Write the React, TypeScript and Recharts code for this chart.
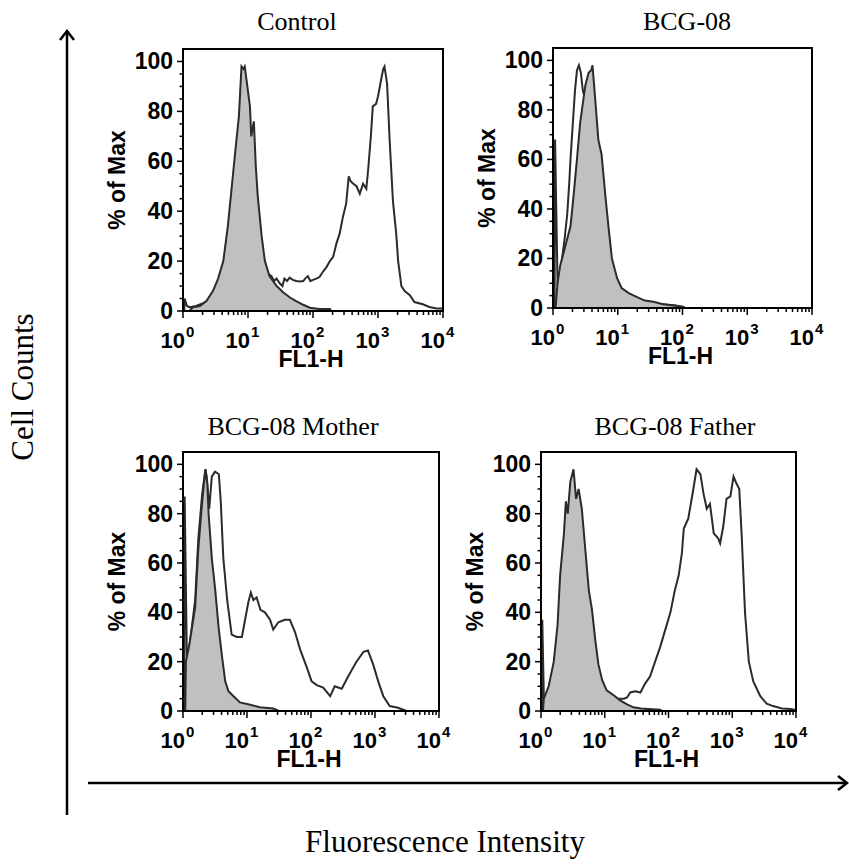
import React from "react";
import { Area, ComposedChart, Label, ReferenceArea, XAxis, YAxis } from "recharts";

// x positions are in decades of FL1-H (0 = 10^0 ... 4 = 10^4), y is % of max
const decadeTicks = [0, 1, 2, 3, 4];
const minorMultipliers = [2, 3, 4, 5, 6, 7, 8, 9];
const percentTicks = [0, 5, 10, 15, 20, 25, 30, 35, 40, 45, 50, 55, 60, 65, 70, 75, 80, 85, 90, 95, 100];
const percentLabels = [0, 20, 40, 60, 80, 100];

// Control
const controlOpenX = [0.02, 0.025, 0.06, 0.1, 0.2, 0.3, 0.5, 0.7, 0.9, 1.1, 1.25, 1.33, 1.36, 1.4, 1.44, 1.49, 1.53, 1.56, 1.6, 1.64, 1.69, 1.74, 1.8, 1.85, 1.88, 1.92, 1.96, 2.0, 2.05, 2.1, 2.16, 2.21, 2.26, 2.31, 2.36, 2.41, 2.46, 2.51, 2.55, 2.58, 2.62, 2.67, 2.72, 2.77, 2.82, 2.85, 2.89, 2.92, 2.97, 3.0, 3.05, 3.08, 3.1, 3.14, 3.18, 3.23, 3.28, 3.31, 3.36, 3.41, 3.49, 3.56, 3.69, 3.79, 3.9, 4.0];
const controlOpenY = [0, 5, 2, 1.5, 2, 3, 6, 9, 12, 14, 15, 14.5, 14, 12, 13, 11, 10, 13, 12, 13.4, 12.5, 12, 11.8, 12, 13, 14, 12, 12.5, 13, 13.6, 16, 17.7, 20, 21.7, 27, 31, 37.7, 43, 54, 52, 51, 50, 47, 51, 49, 57, 70, 82, 83, 86, 93, 97, 98, 91, 68, 44, 31, 20, 10, 8, 6.3, 3.6, 2.7, 1.6, 1, 1];
const controlGrayX = [0.1, 0.15, 0.26, 0.36, 0.46, 0.54, 0.62, 0.69, 0.77, 0.82, 0.86, 0.9, 0.93, 0.95, 0.98, 1.03, 1.05, 1.09, 1.12, 1.15, 1.21, 1.26, 1.33, 1.44, 1.54, 1.64, 1.74, 1.85, 1.95, 2.1, 2.26, 2.28];
const controlGrayY = [0, 1.5, 2, 4, 8, 13, 20, 34, 55, 68, 78, 98, 97, 98, 92, 82, 70, 76, 58, 46, 30, 20, 14, 10, 7.5, 5.5, 4, 2.5, 1.3, 0.8, 0.8, 0];

// BCG-08
const patientOpenX = [0.025, 0.032, 0.07, 0.1, 0.14, 0.18, 0.22, 0.25, 0.27, 0.29, 0.32, 0.34, 0.37, 0.4, 0.43, 0.46, 0.5, 0.6, 0.7, 0.8, 0.9, 1.0, 1.2, 1.5, 1.9, 2.05];
const patientOpenY = [0, 68, 10, 11, 20, 28, 38, 50, 60, 68, 80, 88, 96, 98, 95, 88, 84, 60, 40, 25, 12, 7, 4, 2, 1, 0];
const patientGrayX = [0.04, 0.07, 0.11, 0.16, 0.22, 0.27, 0.32, 0.37, 0.42, 0.5, 0.55, 0.59, 0.61, 0.65, 0.7, 0.75, 0.81, 0.86, 0.91, 0.99, 1.06, 1.17, 1.29, 1.42, 1.55, 1.7, 1.86, 2.01, 2.03];
const patientGrayY = [0, 10, 17, 22, 28, 33, 46, 60, 75, 90, 95, 96, 98, 85, 68, 62, 45, 32, 20, 12, 8, 6, 4.5, 3, 2.5, 1.5, 1, 0.5, 0];

// BCG-08 Mother
const motherOpenX = [0.02, 0.026, 0.06, 0.11, 0.19, 0.24, 0.3, 0.35, 0.37, 0.41, 0.45, 0.5, 0.56, 0.59, 0.63, 0.69, 0.76, 0.84, 0.92, 0.97, 1.02, 1.06, 1.1, 1.15, 1.21, 1.28, 1.36, 1.41, 1.49, 1.59, 1.67, 1.75, 1.83, 1.93, 2.01, 2.09, 2.19, 2.3, 2.37, 2.48, 2.58, 2.71, 2.82, 2.89, 2.97, 3.05, 3.13, 3.23, 3.36, 3.44, 3.49];
const motherOpenY = [0, 87, 22, 28, 45, 70, 88, 98, 95, 82, 95, 97, 96, 85, 62, 45, 31, 30, 30, 37, 44, 48, 45, 46, 41, 40, 37, 33, 36, 37, 37, 32, 25, 18, 12, 10.5, 9.5, 6, 10, 9, 14, 20, 24, 24.5, 19, 12, 6, 2, 1.3, 0.5, 0];
const motherGrayX = [0.035, 0.045, 0.1, 0.19, 0.24, 0.3, 0.35, 0.38, 0.4, 0.45, 0.5, 0.56, 0.61, 0.66, 0.71, 0.79, 0.89, 1.05, 1.2, 1.41, 1.5];
const motherGrayY = [0, 20, 27, 42, 66, 85, 98, 92, 80, 62, 50, 33, 22, 12, 8, 6, 3.5, 2.5, 1.5, 1, 0];

// BCG-08 Father
const fatherOpenX = [0.015, 0.02, 0.045, 0.3, 0.6, 0.9, 1.1, 1.19, 1.3, 1.35, 1.4, 1.48, 1.56, 1.63, 1.71, 1.79, 1.87, 1.95, 2.03, 2.1, 2.16, 2.21, 2.24, 2.31, 2.39, 2.44, 2.5, 2.55, 2.6, 2.65, 2.71, 2.78, 2.81, 2.86, 2.91, 2.97, 3.02, 3.07, 3.11, 3.15, 3.2, 3.26, 3.33, 3.44, 3.54, 3.64, 3.78, 3.91, 3.98];
const fatherOpenY = [0, 37, 5, 5, 5, 5, 5, 5, 5, 5.5, 7.5, 8, 7.5, 11, 14, 20, 26, 33, 40, 49, 55, 64, 74, 78, 90, 98, 96, 88, 82, 84, 72, 70, 68, 75, 86, 87, 95, 92, 90, 70, 40, 20, 12, 6, 3, 2, 1, 0.8, 0.5];
const fatherGrayX = [0.03, 0.045, 0.12, 0.2, 0.26, 0.3, 0.36, 0.39, 0.42, 0.46, 0.51, 0.55, 0.59, 0.64, 0.69, 0.75, 0.8, 0.85, 0.9, 0.96, 1.03, 1.14, 1.24, 1.35, 1.45, 1.57, 1.75, 1.87, 1.9];
const fatherGrayY = [0, 5, 10, 20, 35, 55, 72, 85, 80, 93, 98, 86, 90, 82, 67, 49, 41, 29, 19, 12.5, 8.4, 6.4, 4.3, 2.7, 1.5, 1, 0.7, 0.5, 0];

type Row = { x: number; open?: number; gray?: number };

function buildRows(openX: number[], openY: number[], grayX: number[], grayY: number[]): Row[] {
  const map = new Map<number, Row>();
  openX.forEach((x, i) => {
    const r = map.get(x) ?? { x };
    r.open = openY[i];
    map.set(x, r);
  });
  grayX.forEach((x, i) => {
    const r = map.get(x) ?? { x };
    r.gray = grayY[i];
    map.set(x, r);
  });
  return [...map.values()].sort((a, b) => a.x - b.x);
}

const xTicks = [
  ...decadeTicks,
  ...decadeTicks.slice(0, -1).flatMap((d) => minorMultipliers.map((m) => d + Math.log10(m))),
].sort((a, b) => a - b);

const sans = "'Liberation Sans', Arial, sans-serif";
const serif = "'Liberation Serif', 'Times New Roman', serif";
const ink = "#2b2b2b";

const DecadeTick = (props: any) => {
  const { x, y, payload } = props;
  const v = payload.value;
  const major = Math.abs(v - Math.round(v)) < 1e-6;
  return (
    <g>
      <line x1={x} x2={x} y1={y} y2={y + (major ? 7 : 4)} stroke="#000" strokeWidth={1.5} />
      {major && (
        <>
          <text x={x + 2} y={y + 37} textAnchor="end" fontFamily={sans} fontWeight="bold" fontSize={22} fill="#000">
            10
          </text>
          <text x={x + 3} y={y + 26} textAnchor="start" fontFamily={sans} fontWeight="bold" fontSize={15} fill="#000">
            {Math.round(v)}
          </text>
        </>
      )}
    </g>
  );
};

const PercentTick = (props: any) => {
  const { x, y, payload } = props;
  const v = payload.value;
  const major = percentLabels.includes(v);
  return (
    <g>
      <line x1={x - (major ? 6 : 3.5)} x2={x} y1={y} y2={y} stroke="#000" strokeWidth={1.5} />
      {major && (
        <text x={x - 10} y={y + 8} textAnchor="end" fontFamily={sans} fontWeight="bold" fontSize={23} fill="#000">
          {v}
        </text>
      )}
    </g>
  );
};

const xLabel = (props: any) => {
  const vb = props.viewBox;
  return (
    <text x={vb.x + vb.width / 2 - 2} y={vb.y + 56} textAnchor="middle" fontFamily={sans} fontWeight="bold" fontSize={23} fill="#000">
      FL1-H
    </text>
  );
};

const yLabel = (props: any) => {
  const vb = props.viewBox;
  const cx = vb.x + vb.width - 58;
  const cy = vb.y + vb.height / 2;
  return (
    <text x={cx} y={cy} transform={`rotate(-90 ${cx} ${cy})`} textAnchor="middle" fontFamily={sans} fontWeight="bold" fontSize={23} fill="#000">
      % of Max
    </text>
  );
};

type PanelProps = { rows: Row[]; left: number; top: number; width: number; height: number };

function Histogram({ rows, left, top, width, height }: PanelProps) {
  const yw = 82;
  const xh = 66;
  return (
    <div style={{ position: "absolute", left: left - yw, top: top - 10 }}>
      <ComposedChart width={width + yw + 20} height={height + xh + 10} data={rows} margin={{ top: 10, right: 20, bottom: 0, left: 0 }}>
        <XAxis
          dataKey="x"
          type="number"
          domain={[0, 4]}
          ticks={xTicks}
          interval={0}
          tickSize={0}
          tickMargin={0}
          tickLine={false}
          axisLine={false}
          tick={<DecadeTick />}
          height={xh}
          allowDataOverflow
        >
          <Label content={xLabel} />
        </XAxis>
        <YAxis
          type="number"
          domain={[0, 105]}
          ticks={percentTicks}
          interval={0}
          tickSize={0}
          tickMargin={0}
          tickLine={false}
          axisLine={false}
          tick={<PercentTick />}
          width={yw}
          allowDataOverflow
        >
          <Label content={yLabel} />
        </YAxis>
        <Area
          type="linear"
          dataKey="open"
          stroke={ink}
          strokeWidth={2}
          fill="none"
          fillOpacity={0}
          connectNulls
          dot={false}
          activeDot={false}
          isAnimationActive={false}
        />
        <Area
          type="linear"
          dataKey="gray"
          stroke={ink}
          strokeWidth={2}
          fill="#c0c0c0"
          fillOpacity={1}
          connectNulls
          dot={false}
          activeDot={false}
          isAnimationActive={false}
        />
        <ReferenceArea x1={0} x2={4} y1={0} y2={105} fill="none" fillOpacity={0} stroke="#000" strokeWidth={2} ifOverflow="visible" />
      </ComposedChart>
    </div>
  );
}

const panels = [
  { title: "Control", rows: buildRows(controlOpenX, controlOpenY, controlGrayX, controlGrayY), left: 183, top: 49, width: 260, height: 262, tx: 297, ty: 30 },
  { title: "BCG-08", rows: buildRows(patientOpenX, patientOpenY, patientGrayX, patientGrayY), left: 553, top: 48, width: 259, height: 260, tx: 687, ty: 30 },
  { title: "BCG-08 Mother", rows: buildRows(motherOpenX, motherOpenY, motherGrayX, motherGrayY), left: 183, top: 452, width: 256, height: 259, tx: 293, ty: 435 },
  { title: "BCG-08 Father", rows: buildRows(fatherOpenX, fatherOpenY, fatherGrayX, fatherGrayY), left: 541, top: 452, width: 255, height: 259, tx: 675, ty: 435 },
];

export default function App() {
  return (
    <div style={{ position: "absolute", left: 0, top: 0, width: 849, height: 866, background: "#fff", overflow: "hidden" }}>
      {panels.map((p) => (
        <Histogram key={p.title} rows={p.rows} left={p.left} top={p.top} width={p.width} height={p.height} />
      ))}
      <svg width={849} height={866} style={{ position: "absolute", left: 0, top: 0, pointerEvents: "none" }}>
        {panels.map((p) => (
          <text key={p.title} x={p.tx} y={p.ty} textAnchor="middle" fontFamily={serif} fontSize={26} fill="#000">
            {p.title}
          </text>
        ))}
        <line x1={67} y1={31} x2={67} y2={815} stroke="#000" strokeWidth={2.5} />
        <polyline points="60,40 67,31 74,40" fill="none" stroke="#000" strokeWidth={2.5} />
        <line x1={88} y1={783} x2={846} y2={783} stroke="#000" strokeWidth={2.5} />
        <polyline points="838,776 847,783 838,790" fill="none" stroke="#000" strokeWidth={2.5} />
        <text x={33} y={387} transform="rotate(-90 33 387)" textAnchor="middle" fontFamily={serif} fontSize={31} fill="#000">
          Cell Counts
        </text>
        <text x={445} y={852} textAnchor="middle" fontFamily={serif} fontSize={31} fill="#000">
          Fluorescence Intensity
        </text>
      </svg>
    </div>
  );
}
